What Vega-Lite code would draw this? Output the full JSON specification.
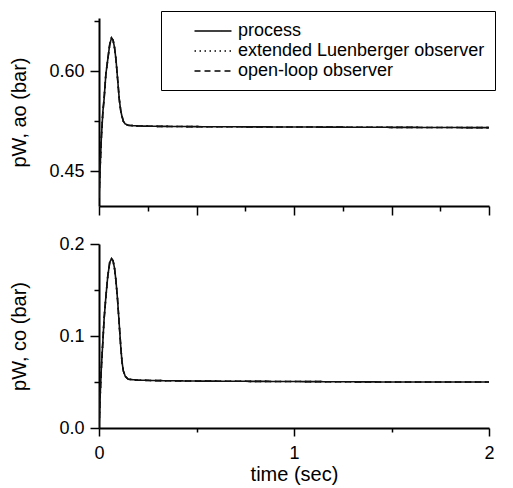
{
  "$schema": "https://vega.github.io/schema/vega-lite/v6.json",
  "padding": {"left": 8, "top": 10, "right": 2, "bottom": 5},
  "config": {
    "view": {"stroke": null},
    "font": "Liberation Sans",
    "axis": {
      "domainColor": "black", "domainWidth": 2, "tickColor": "black", "tickWidth": 1.5,
      "labelColor": "black", "titleColor": "black", "labelFontSize": 18, "titleFontSize": 20,
      "titleFontWeight": "normal", "grid": false, "labelFont": "Liberation Sans", "titleFont": "Liberation Sans",
      "labelOverlap": false, "labelFlush": false
    },
    "legend": {
      "labelFont": "Liberation Sans", "labelFontSize": 18, "labelColor": "black", "labelLimit": 0
    }
  },
  "data": {"values": [
    {"t":0,"ao":0.41,"co":0.0},{"t":0.005,"ao":0.45,"co":0.03},{"t":0.012,"ao":0.5,"co":0.065},
    {"t":0.02,"ao":0.54,"co":0.095},{"t":0.026,"ao":0.558,"co":0.118},{"t":0.035,"ao":0.595,"co":0.142},
    {"t":0.045,"ao":0.618,"co":0.165},{"t":0.055,"ao":0.64,"co":0.18},{"t":0.064,"ao":0.65,"co":0.184},
    {"t":0.072,"ao":0.647,"co":0.182},{"t":0.08,"ao":0.635,"co":0.173},{"t":0.087,"ao":0.618,"co":0.16},
    {"t":0.095,"ao":0.59,"co":0.14},{"t":0.104,"ao":0.558,"co":0.112},{"t":0.112,"ao":0.54,"co":0.087},
    {"t":0.118,"ao":0.5325,"co":0.072},{"t":0.125,"ao":0.525,"co":0.062},{"t":0.135,"ao":0.521,"co":0.056},
    {"t":0.15,"ao":0.519,"co":0.053},{"t":0.2,"ao":0.518,"co":0.052},{"t":0.3,"ao":0.5175,"co":0.0515},
    {"t":0.5,"ao":0.517,"co":0.051},{"t":1.0,"ao":0.5165,"co":0.0505},{"t":1.5,"ao":0.516,"co":0.05},
    {"t":2.0,"ao":0.5155,"co":0.05}
  ]},
  "transform": [
    {"calculate": "['process','extended Luenberger observer','open-loop observer']", "as": "series"},
    {"flatten": ["series"]}
  ],
  "vconcat": [
    {
      "width": 390, "height": 188,
      "mark": {"type": "line", "color": "#111", "strokeWidth": 1.6, "clip": true},
      "encoding": {
        "x": {"field": "t", "type": "quantitative", "scale": {"domain": [0, 2], "nice": false},
          "axis": {"title": null, "values": [0,0.25,0.5,0.75,1,1.25,1.5,1.75,2], "labels": false,
            "tickSize": {"condition": {"test": "round(datum.value*100) % 50 == 0", "value": 9}, "value": 5}}},
        "y": {"field": "ao", "type": "quantitative", "scale": {"domain": [0.398, 0.68], "nice": false, "zero": false},
          "axis": {"title": "pW, ao (bar)", "titleX": -70, "values": [0.45, 0.525, 0.6, 0.675], "format": ".2f",
            "labelExpr": "round(datum.value*1000) % 150 == 0 ? datum.label : ''", "labelPadding": 6,
            "tickSize": {"condition": {"test": "round(datum.value*1000) % 150 == 0", "value": 9}, "value": 5}}},
        "strokeDash": {"field": "series", "type": "nominal",
          "scale": {"domain": ["process","extended Luenberger observer","open-loop observer"], "range": [[1,0],[1.5,3.5],[6,4]]},
          "legend": {"title": null, "orient": "none", "legendX": 62, "legendY": -7, "strokeColor": "black",
            "padding": 10, "symbolType": "M-2,0H2", "symbolSize": 342, "symbolStrokeWidth": 1.5,
            "symbolStrokeColor": "black", "symbolOffset": 32, "labelOffset": 15, "rowPadding": 1}}
      }
    },
    {
      "width": 390, "height": 184,
      "mark": {"type": "line", "color": "#111", "strokeWidth": 1.6, "clip": true},
      "encoding": {
        "x": {"field": "t", "type": "quantitative", "scale": {"domain": [0, 2], "nice": false},
          "axis": {"title": "time (sec)", "values": [0,0.5,1,1.5,2], "labelOverlap": false,
            "labelExpr": "datum.value == 0 || datum.value == 1 || datum.value == 2 ? format(datum.value, 'd') : ''",
            "labelPadding": 8, "titlePadding": 2,
            "tickSize": {"condition": {"test": "datum.value == 0 || datum.value == 1 || datum.value == 2", "value": 8}, "value": 4}}},
        "y": {"field": "co", "type": "quantitative", "scale": {"domain": [0, 0.2], "nice": false},
          "axis": {"title": "pW, co (bar)", "titleX": -70, "values": [0, 0.05, 0.1, 0.15, 0.2], "format": ".1f",
            "labelExpr": "round(datum.value*100) % 10 == 0 ? datum.label : ''", "labelPadding": 6,
            "tickSize": {"condition": {"test": "round(datum.value*100) % 10 == 0", "value": 9}, "value": 5}}},
        "strokeDash": {"field": "series", "type": "nominal",
          "scale": {"domain": ["process","extended Luenberger observer","open-loop observer"], "range": [[1,0],[1.5,3.5],[6,4]]},
          "legend": null}
      }
    }
  ],
  "spacing": 38,
  "bounds": "flush",
  "resolve": {"scale": {"strokeDash": "independent"}, "legend": {"strokeDash": "independent"}}
}
